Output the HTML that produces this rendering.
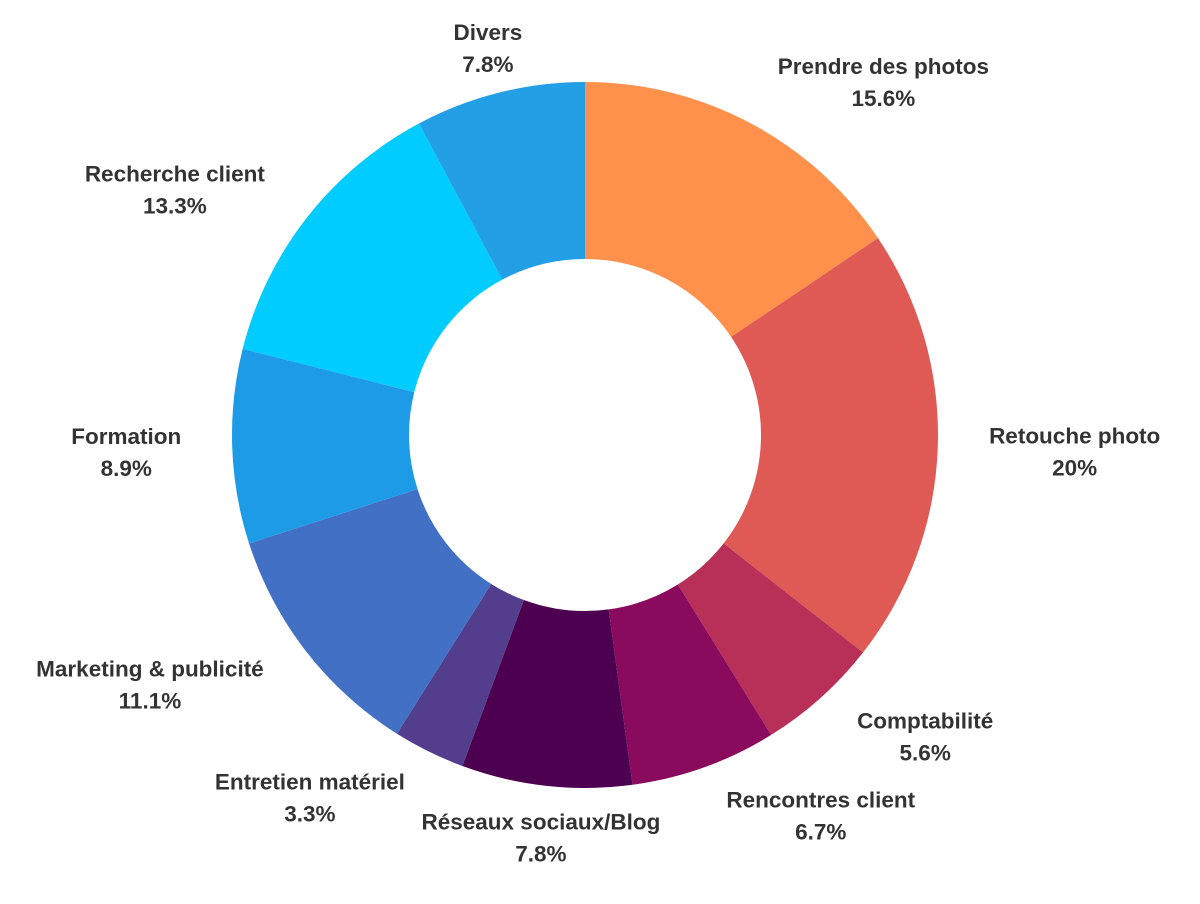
<!DOCTYPE html>
<html><head><meta charset="utf-8"><style>
html,body{margin:0;padding:0;background:#fff;width:1200px;height:904px;overflow:hidden}
text{font-family:"Liberation Sans",sans-serif;font-weight:bold;font-size:22.5px;fill:#333}
</style></head><body>
<svg id="chart" width="1200" height="904" viewBox="0 0 1200 904" xmlns="http://www.w3.org/2000/svg"></svg>
<script>
const categories=["Prendre des photos","Retouche photo","Comptabilité","Rencontres client","Réseaux sociaux/Blog","Entretien matériel","Marketing & publicité","Formation","Recherche client","Divers"];
const values=[15.6,20,5.6,6.7,7.8,3.3,11.1,8.9,13.3,7.8];
const valueLabels=["15.6%","20%","5.6%","6.7%","7.8%","3.3%","11.1%","8.9%","13.3%","7.8%"];
const colors=["#FF914D","#E05A55","#B83058","#8A0A5E","#4E0050","#523E8C","#4270C4","#1E9BE6","#00CCFF","#239FE6"];
const labelNudgeX=[75,15,23,75,8,-65,-60,16,-36,18];
const labelNudgeY=[-4,-2,0,0,1,0,0,0,-3,-3];
const svg=document.getElementById('chart');
const NS="http://www.w3.org/2000/svg";
const cx=585,cy=435,R=353,r=176,lrx=475,lry=400;
const total=values.reduce((a,b)=>a+b,0);
function pt(a,rad){return [cx+rad*Math.sin(a),cy-rad*Math.cos(a)];}
let acc=0;
values.forEach((v,i)=>{
  const a0=acc/total*2*Math.PI; acc+=v; const a1=acc/total*2*Math.PI;
  const large=(a1-a0)>Math.PI?1:0;
  const [x0,y0]=pt(a0,R),[x1,y1]=pt(a1,R),[x2,y2]=pt(a1,r),[x3,y3]=pt(a0,r);
  const p=document.createElementNS(NS,'path');
  p.setAttribute('d',`M${x0},${y0}A${R},${R} 0 ${large} 1 ${x1},${y1}L${x2},${y2}A${r},${r} 0 ${large} 0 ${x3},${y3}Z`);
  p.setAttribute('fill',colors[i]);
  
  
  svg.appendChild(p);
  const am=(a0+a1)/2;
  const lx=cx+lrx*Math.sin(am)+labelNudgeX[i], ly=cy-lry*Math.cos(am)+labelNudgeY[i];
  const g=document.createElementNS(NS,'g');
  
  
  const t1=document.createElementNS(NS,'text');
  t1.setAttribute('x',lx);t1.setAttribute('y',ly-4);t1.setAttribute('text-anchor','middle');
  t1.textContent=categories[i];
  const t2=document.createElementNS(NS,'text');
  t2.setAttribute('x',lx);t2.setAttribute('y',ly+28);t2.setAttribute('text-anchor','middle');
  t2.textContent=valueLabels[i];
  g.appendChild(t1);g.appendChild(t2);svg.appendChild(g);
});
</script>
</body></html>
